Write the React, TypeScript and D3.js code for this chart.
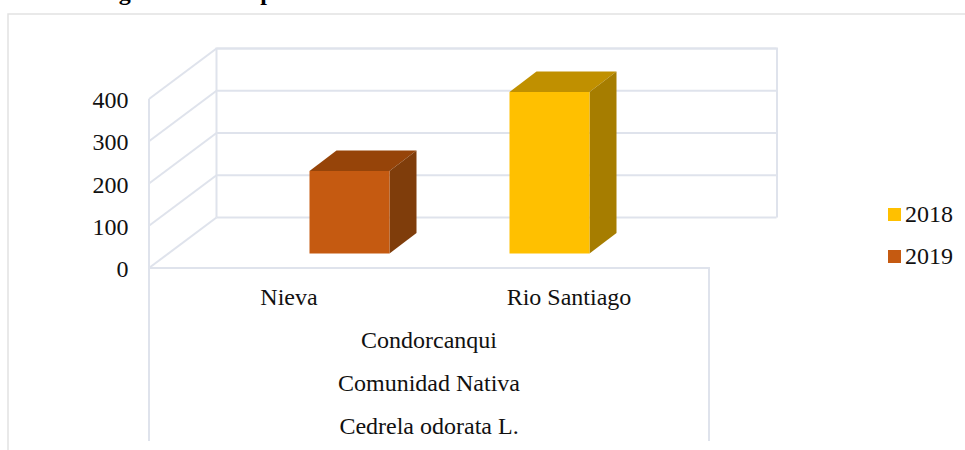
import React from "react";
import * as d3 from "d3";

const categories = ["Nieva", "Rio Santiago"];
const seriesNames = ["2018", "2019"];
const values2018 = [0, 382];
const values2019 = [195, 0];
const yTicks = [0, 100, 200, 300, 400];
const hierarchyLabels = ["Condorcanqui", "Comunidad Nativa", "Cedrela odorata L."];
const titleLead = "Figura 13. Comprobación del volumen maderable total de ";
const titleSpecies = "Cedrela odorata L.";

const faces: Record<string, { front: string; top: string; side: string }> = {
  "2018": { front: "#FFC000", top: "#C09000", side: "#A67D00" },
  "2019": { front: "#C55A11", top: "#964409", side: "#7F3D0B" },
};

const FONT = "'Liberation Serif', 'Times New Roman', serif";
const GRID = "#DFE3EC";

// Oblique projection of the 3D plot box
const floorLeft = 149;
const floorRight = 709;
const wallDx = 67.5;
const wallDy = -50.5;
const barDx = 27;
const barDy = -20.5;
const barFrontDx = 20.5;
const barFrontDy = -14.5;

const y = d3.scaleLinear().domain([0, 400]).range([268, 99]);
const x0 = d3.scaleBand<string>().domain(categories).range([floorLeft, floorRight]);
const x1 = d3.scaleBand<string>().domain(seriesNames).range([60, 220]);
const poly = (pts: [number, number][]) => (d3.line()(pts) ?? "") + "Z";

export default function App() {
  const rows = seriesNames.flatMap((s, si) =>
    categories.map((c, ci) => ({ s, c, v: (si === 0 ? values2018 : values2019)[ci] }))
  ).filter((r) => r.v > 0);

  return (
    <svg
      width={965}
      height={450}
      style={{ position: "fixed", left: 0, top: 0, display: "block", background: "#fff" }}
      fontFamily={FONT}
      fill="#111"
    >
      <text x={97} y={0.4} fontSize={24} fontWeight="bold" fill="#000" letterSpacing={0.18}>
        {titleLead}
        <tspan fontStyle="italic">{titleSpecies}</tspan>
      </text>

      {/* chart area frame */}
      <path d="M8,450V14H965" fill="none" stroke="#E2E2E2" strokeWidth={1.5} />

      {/* back wall and side wall with gridlines */}
      <g fill="none" stroke={GRID} strokeWidth={2}>
        <path d={`M${floorLeft + wallDx},${y(0) + wallDy}V${y(400) + wallDy}H${floorRight + wallDx + 0.5}V${y(0) + wallDy}`} />
        <path d={`M${floorLeft},${y(400)}V${y(0)}`} />
        {yTicks.map((t) => (
          <g key={t}>
            <line x1={floorLeft} y1={y(t)} x2={floorLeft + wallDx} y2={y(t) + wallDy} />
            <line x1={floorLeft + wallDx} y1={y(t) + wallDy} x2={floorRight + wallDx} y2={y(t) + wallDy} />
          </g>
        ))}
        {/* floor edge and the multi-level category box */}
        <path d={`M${floorLeft},441V${y(0)}H${floorRight}V441`} />
      </g>

      {/* value axis labels */}
      <g fontSize={24} textAnchor="end">
        {yTicks.map((t) => (
          <text key={t} x={128.5} y={y(t) + 9}>{t}</text>
        ))}
      </g>

      {/* bars as oblique boxes */}
      {rows.map(({ s, c, v }) => {
        const left = (x0(c) ?? 0) + (x1(s) ?? 0) + barFrontDx;
        const right = left + x1.bandwidth();
        const base = y(0) + barFrontDy;
        const top = base - (y(0) - y(v));
        const colors = faces[s];
        return (
          <g key={`${s}-${c}`}>
            <path
              d={poly([[left, top], [right, top], [right + barDx, top + barDy], [left + barDx, top + barDy]])}
              fill={colors.top}
            />
            <path
              d={poly([[right, top], [right + barDx, top + barDy], [right + barDx, base + barDy], [right, base]])}
              fill={colors.side}
            />
            <path d={poly([[left, top], [right, top], [right, base], [left, base]])} fill={colors.front} />
          </g>
        );
      })}

      {/* category labels */}
      <g fontSize={24} textAnchor="middle">
        {categories.map((c) => (
          <text key={c} x={(x0(c) ?? 0) + x0.bandwidth() / 2} y={305}>{c}</text>
        ))}
        {hierarchyLabels.map((l, i) => (
          <text key={l} x={(floorLeft + floorRight) / 2} y={348 + i * 43}>{l}</text>
        ))}
      </g>

      {/* legend */}
      {seriesNames.map((s, i) => (
        <g key={s}>
          <rect x={888} y={208 + i * 42} width={13} height={13} fill={faces[s].front} />
          <text x={905} y={222 + i * 42} fontSize={24}>{s}</text>
        </g>
      ))}
    </svg>
  );
}
